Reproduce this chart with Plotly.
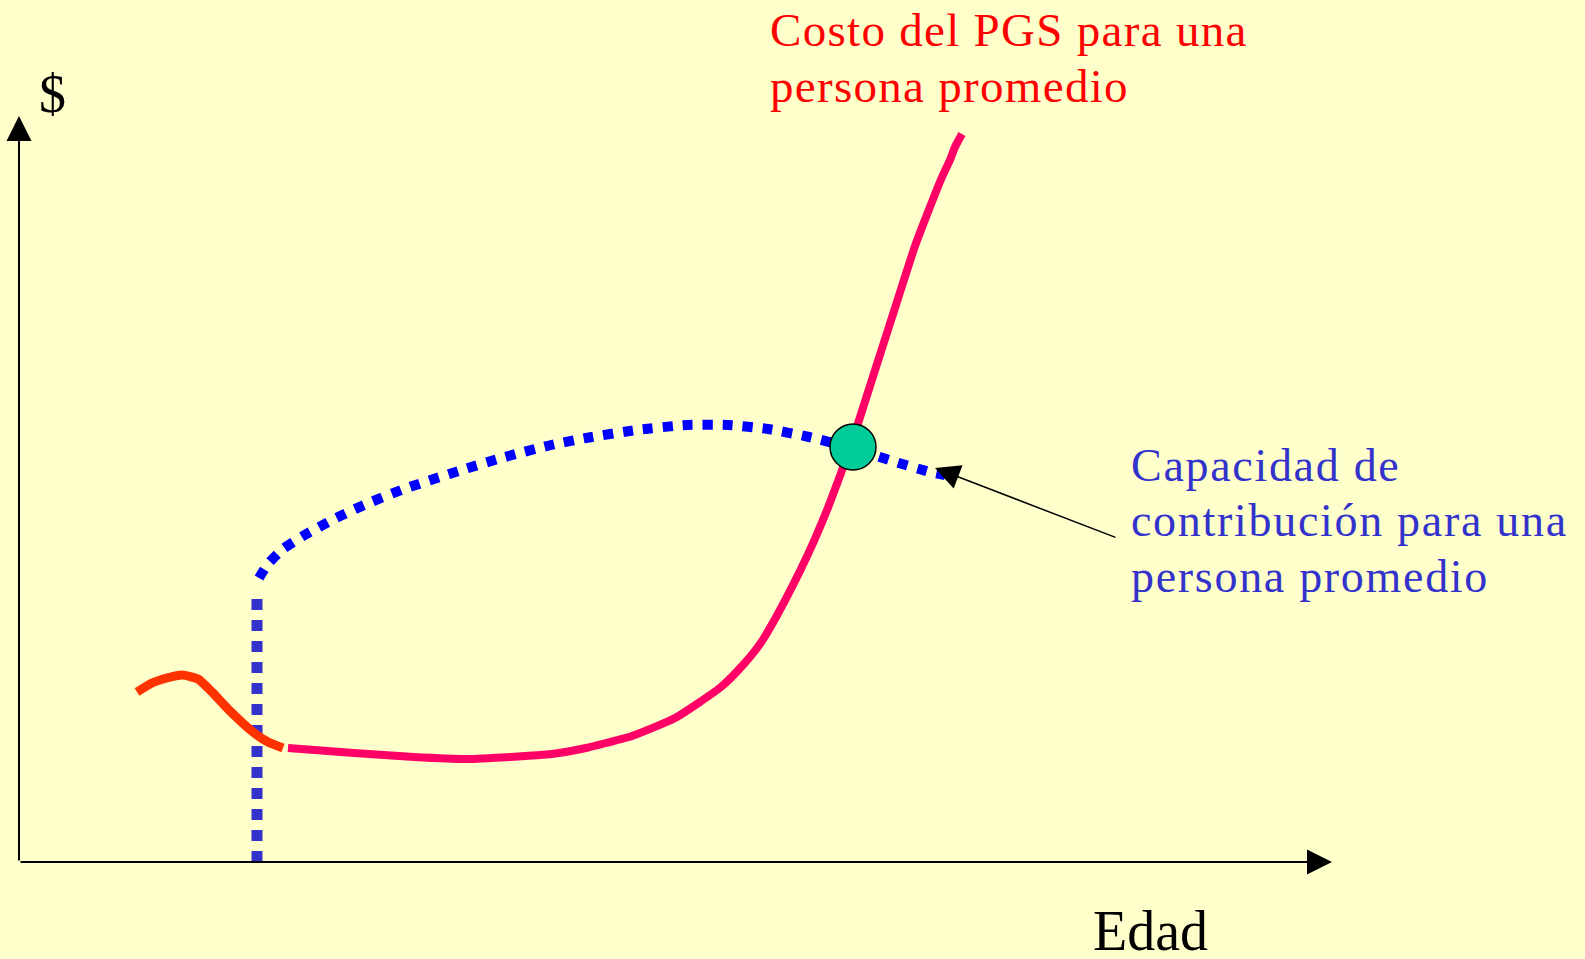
import plotly.graph_objects as go

# Schematic curves (x = age axis units, y = $ units; origin at axes corner)
costo_infancia_x = [118, 133, 148, 163, 179, 193, 211, 234, 249, 264]
costo_infancia_y = [170, 179, 184, 187, 183, 170, 151, 130, 120, 114]

costo_x = [269, 335, 395, 448, 533, 567, 587, 613, 656, 702, 724, 741, 756, 780,
           795, 810, 833, 850, 876, 896, 909, 923, 931, 936, 943]
costo_y = [114, 109, 105, 103, 108, 114, 119, 126, 144, 175, 197, 218, 243, 289,
           321, 357, 420, 473, 554, 616, 650, 685, 702, 715, 728]

inicio_x = [238, 238]
inicio_y = [0, 270]

capacidad_x = [240, 249, 264, 284, 315, 345, 385, 446, 486, 532, 567, 618, 668,
               709, 749, 790, 833, 870, 911, 926]
capacidad_y = [284, 298, 313, 326, 343, 357, 373, 393, 405, 417, 424, 432, 437,
               437, 433, 425, 414, 402, 390, 387]

cruce_x = [834]
cruce_y = [415]

texto_costo = ["Costo del PGS para una", "persona promedio"]
texto_capacidad = ["Capacidad de", "contribución para una", "persona promedio"]

FONT = "Liberation Serif, Times New Roman, serif"


def spaced(t, px):
    return '<span style="letter-spacing:%spx">%s</span>' % (px, t)


fig = go.Figure()
fig.add_trace(go.Scatter(x=inicio_x, y=inicio_y, mode="lines",
                         line=dict(color="#3333CC", width=11, dash="11px,10px")))
fig.add_trace(go.Scatter(x=capacidad_x, y=capacidad_y, mode="lines",
                         line=dict(color="#0000FF", width=10, dash="10px,10px",
                                   shape="spline", smoothing=0.6)))
fig.add_trace(go.Scatter(x=costo_infancia_x, y=costo_infancia_y, mode="lines",
                         line=dict(color="#FF3300", width=9, shape="spline", smoothing=0.5)))
fig.add_trace(go.Scatter(x=costo_x, y=costo_y, mode="lines",
                         line=dict(color="#FF0066", width=8, shape="spline", smoothing=0.5)))
fig.add_trace(go.Scatter(x=cruce_x, y=cruce_y, mode="markers",
                         marker=dict(size=46, color="#00CC99",
                                     line=dict(color="black", width=1.5))))

ann = []
# axes arrows
ann.append(dict(x=1313, y=0, ax=0, ay=0, xref="x", yref="y", axref="x", ayref="y",
                showarrow=True, arrowhead=2, arrowwidth=2, arrowsize=2.5,
                arrowcolor="black", text=""))
ann.append(dict(x=0, y=746, ax=0, ay=0, xref="x", yref="y", axref="x", ayref="y",
                showarrow=True, arrowhead=2, arrowwidth=2, arrowsize=2.5,
                arrowcolor="black", text=""))
# pointer to capacity curve
ann.append(dict(x=916, y=394, ax=1098, ay=324, xref="x", yref="y", axref="x", ayref="y",
                showarrow=True, arrowhead=2, arrowwidth=1.5, arrowsize=3.3,
                arrowcolor="black", text=""))

for t, yc in zip(texto_costo, [832, 776]):
    ann.append(dict(x=749, y=yc, xref="x", yref="y", text=spaced(t, 1.3), showarrow=False,
                    xanchor="left", yanchor="middle",
                    font=dict(family=FONT, size=47, color="#FF0000")))
for t, yc in zip(texto_capacidad, [397, 342, 286]):
    ann.append(dict(x=1110, y=yc, xref="x", yref="y", text=spaced(t, 1.7), showarrow=False,
                    xanchor="left", yanchor="middle",
                    font=dict(family=FONT, size=46, color="#3333CC")))
ann.append(dict(x=1072, y=-69, xref="x", yref="y", text="Edad", showarrow=False,
                xanchor="left", yanchor="middle",
                font=dict(family=FONT, size=56, color="black")))
ann.append(dict(x=18, y=768, xref="x", yref="y", text="$", showarrow=False,
                xanchor="left", yanchor="middle",
                font=dict(family=FONT, size=54, color="black")))

fig.update_layout(
    width=1585, height=959,
    margin=dict(l=0, r=0, t=0, b=0),
    paper_bgcolor="#FFFFCC", plot_bgcolor="#FFFFCC",
    showlegend=False,
    xaxis=dict(range=[-19, 1566], visible=False, fixedrange=True),
    yaxis=dict(range=[-97, 862], visible=False, fixedrange=True),
    annotations=ann,
)

fig.write_html("out.html", config={"displayModeBar": False},
               post_script="document.body.style.margin='0';document.body.style.overflow='hidden';")
